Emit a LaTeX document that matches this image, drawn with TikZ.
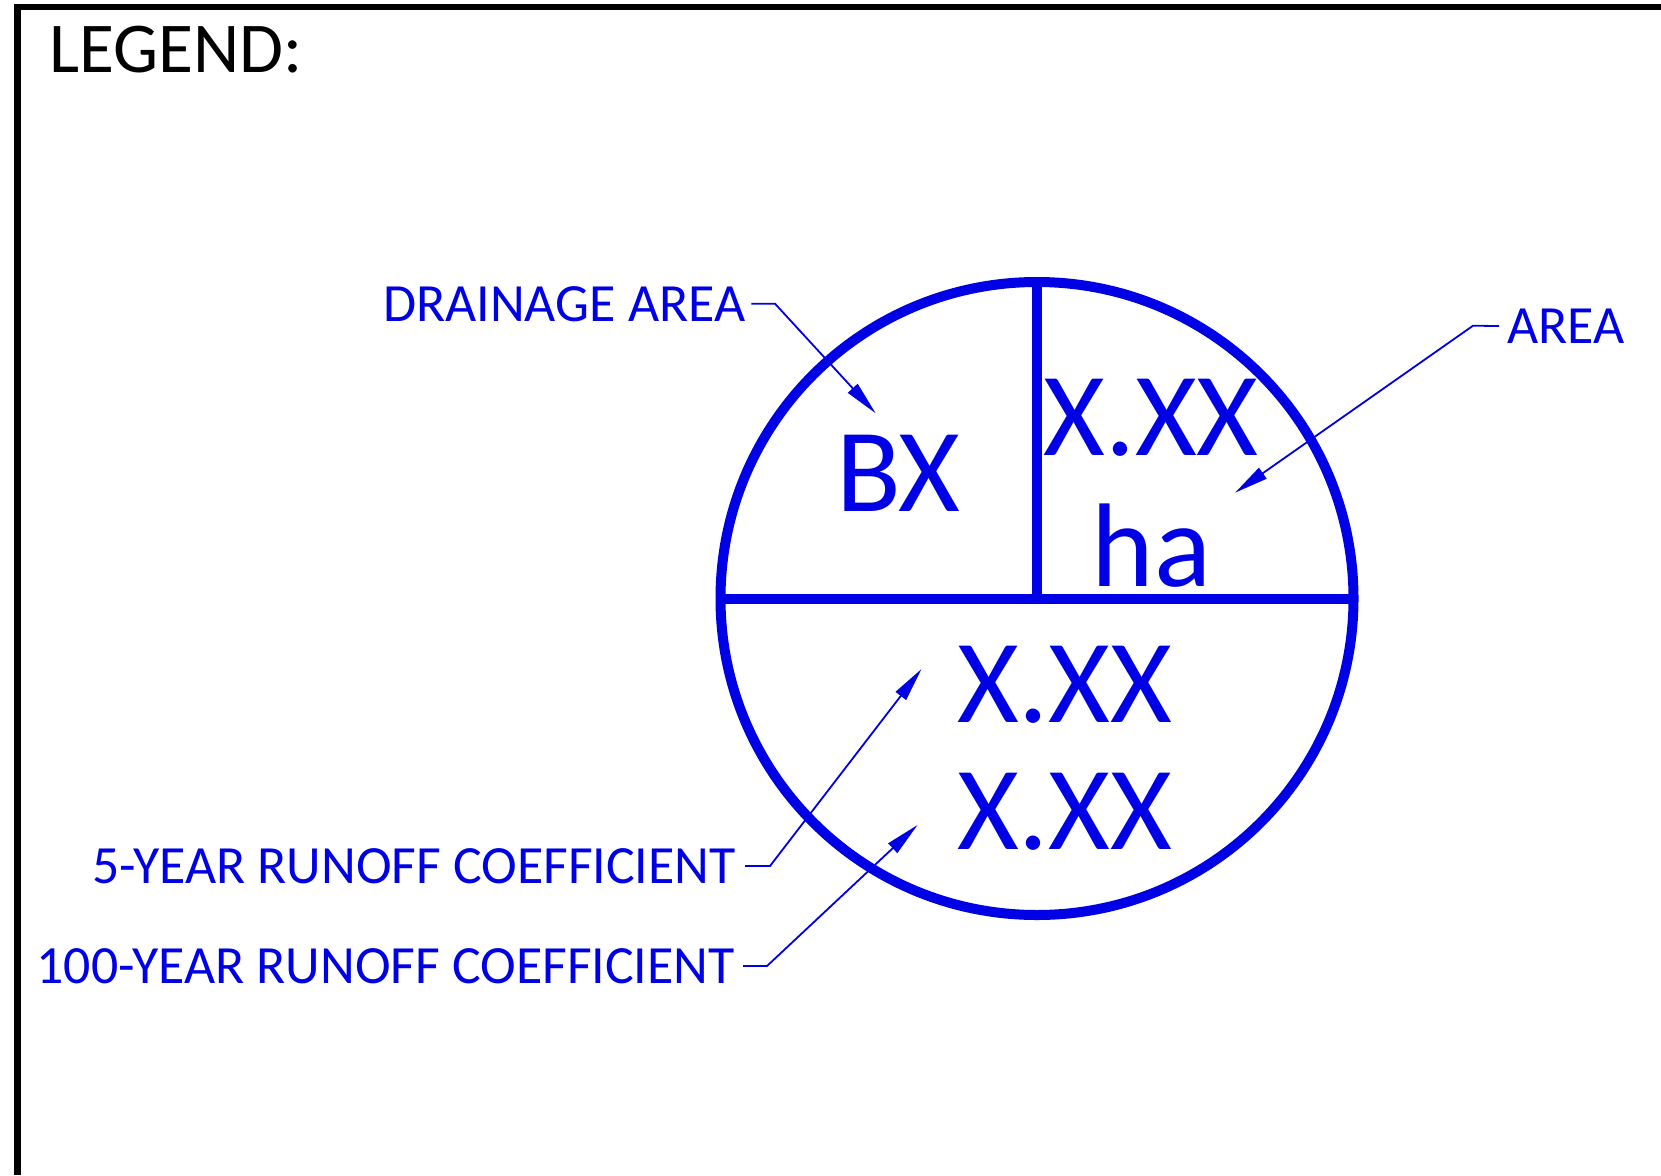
\documentclass[tikz,border=0pt]{standalone}
\usepackage{fontspec}
\setmainfont{Carlito}
\usetikzlibrary{arrows.meta}
\definecolor{planblue}{RGB}{0,0,230}
\begin{document}
\begin{tikzpicture}[x=1pt,y=-1pt,
  callout/.style={text=planblue,inner sep=0pt,font=\fontsize{53.8}{60}\selectfont},
  bigtxt/.style={text=planblue,inner sep=0pt,font=\fontsize{119}{130}\selectfont},
  leader/.style={draw=planblue,line width=1.8pt,line join=miter,
    -{Triangle[length=34pt,width=13pt]}},
  borderline/.style={draw=black,line width=6.5pt,line join=miter},
  ring/.style={draw=planblue,line width=10pt}]
\useasboundingbox (0,0) rectangle (1661,1175);

% sheet border (top and left edges)
\draw[borderline] (17.5,1175) -- (17.5,7) -- (1661,7);
\node[anchor=base west,inner sep=0pt,font=\fontsize{71.5}{78}\selectfont] (legend) at (49,72) {LEGEND:};

% drainage area symbol
\node[circle,draw=planblue,line width=10pt,minimum size=633pt,inner sep=0pt,outer sep=0pt] (disc) at (1037,598.5) {};
\draw[ring] (disc.west) -- (disc.east);
\draw[ring] (disc.north) -- (disc.center);

\node[bigtxt,anchor=base] (bx) at (898.4,511.7) {BX};
\node[bigtxt,anchor=base] (area) at (1151,455) {X.XX};
\node[bigtxt,anchor=base] (unit) at (1151.4,586.7) {ha};
\node[bigtxt,anchor=base] (c5) at (1064.7,722.7) {X.XX};
\node[bigtxt,anchor=base] (c100) at (1064.7,849.3) {X.XX};

% callout labels
\node[callout,anchor=base west] (lda) at (383,321) {DRAINAGE AREA};
\node[callout,anchor=base west] (la) at (1507,343.3) {AREA};
\node[callout,anchor=base east] (l5) at (736,883.3) {5-YEAR RUNOFF COEFFICIENT};
\node[callout,anchor=base east] (l100) at (735,983.3) {100-YEAR RUNOFF COEFFICIENT};

% leader knees and tips
\coordinate (da-k) at (775,303.7);
\coordinate (da-t) at (875.7,413.3);
\coordinate (a-k) at (1473,325.7);
\coordinate (a-t) at (1235,492.7);
\coordinate (f-k) at (770,866);
\coordinate (f-t) at (921.5,669);
\coordinate (h-k) at (767,966);
\coordinate (h-t) at (917.5,825);

\draw[leader] ([xshift=6pt]lda.east) -- (da-k) -- (da-t);
\draw[leader] ([xshift=-8pt]la.west) -- (a-k) -- (a-t);
\draw[leader] ([xshift=9pt]l5.east) -- (f-k) -- (f-t);
\draw[leader] ([xshift=8pt]l100.east) -- (h-k) -- (h-t);
\end{tikzpicture}
\end{document}
